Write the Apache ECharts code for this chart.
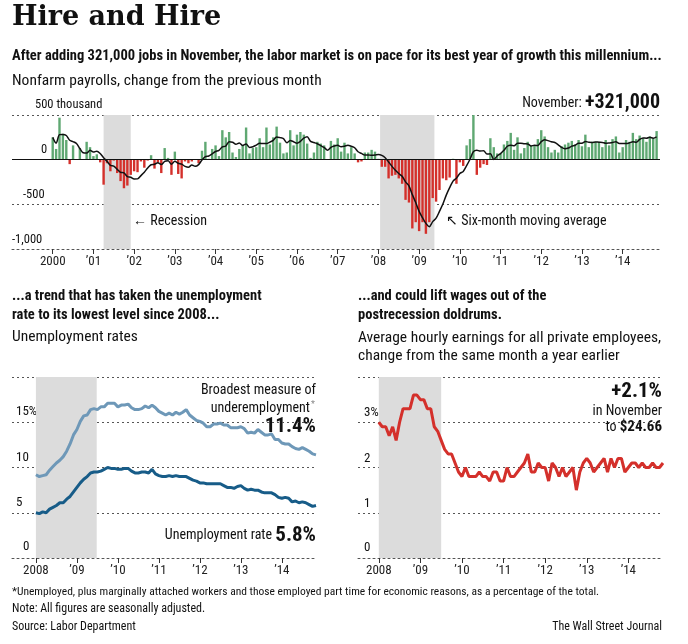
<!DOCTYPE html>
<html><head><meta charset="utf-8">
<script src="https://cdn.jsdelivr.net/npm/echarts@6/dist/echarts.min.js"></script>
<style>html,body{margin:0;padding:0;background:#fff}#chart{width:688px;height:644px}</style>
</head><body><div id="chart"></div>
<script>
const FONT = '"Liberation Sans Narrow", "Roboto Condensed", Roboto, sans-serif';

// Nonfarm payrolls, monthly change (thousands), Jan 2000 - Nov 2014
const payrolls = [
  250, 120, 470, 290, 220, -50, 160, 0, 130, 0, 200, 140,
  40, 60, -30, -280, -40, -130, -10, -150, -240, -320, -290, -170,
  -130, -140, -20, -90, -10, 50, -100, -30, -150, 130, 20, -170,
  90, -160, -210, -20, -40, -20, 0, -40, 100, 200, 10, 120,
  160, 40, 330, 250, 310, 80, 30, 120, 160, 360, 70, 130,
  140, 240, 140, 360, 170, 250, 370, 190, 70, 80, 330, 160,
  280, 310, 280, 180, 20, 80, 200, 180, 160, 0, 210, 170,
  240, 90, 190, 70, 140, 70, -30, -20, 80, 80, 110, 90,
  10, -80, -80, -210, -180, -170, -210, -270, -450, -480, -770, -700,
  -800, -700, -830, -700, -430, -470, -340, -210, -230, -200, 10, -270,
  -30, -70, 160, 230, 520, -170, -90, -50, -60, 240, 140, 70,
  70, 170, 210, 300, 110, 250, 70, 130, 200, 160, 160, 230,
  330, 260, 140, 80, 110, 80, 150, 170, 190, 210, 170, 220,
  150, 280, 140, 200, 200, 200, 140, 220, 160, 230, 260, 80,
  140, 220, 200, 300, 230, 270, 240, 200, 260, 240, 320
];
const payrollYearLabels = ['2000', '\u201901', '\u201902', '\u201903', '\u201904', '\u201905', '\u201906', '\u201907',
  '\u201908', '\u201909', '\u201910', '\u201911', '\u201912', '\u201913', '\u201914'];

// Unemployment rates, Jan 2008 - Nov 2014
const u3 = [
  5.0, 4.9, 5.1, 5.0, 5.4, 5.6, 5.8, 6.1, 6.1, 6.5, 6.8, 7.3,
  7.8, 8.3, 8.7, 9.0, 9.4, 9.5, 9.5, 9.6, 9.8, 10.0, 9.9, 9.9,
  9.8, 9.8, 9.9, 9.9, 9.6, 9.4, 9.4, 9.5, 9.5, 9.4, 9.8, 9.3,
  9.1, 9.0, 9.0, 9.1, 9.0, 9.1, 9.0, 9.0, 9.0, 8.8, 8.6, 8.5,
  8.3, 8.3, 8.2, 8.2, 8.2, 8.2, 8.2, 8.0, 7.8, 7.8, 7.7, 7.9,
  8.0, 7.7, 7.5, 7.6, 7.5, 7.5, 7.3, 7.2, 7.2, 7.2, 7.0, 6.7,
  6.6, 6.7, 6.6, 6.2, 6.3, 6.1, 6.2, 6.1, 5.9, 5.7, 5.8
];
const u6 = [
  9.2, 9.0, 9.1, 9.2, 9.7, 10.1, 10.5, 10.8, 11.2, 11.8, 12.6, 13.6,
  14.2, 15.1, 15.7, 15.8, 16.4, 16.5, 16.4, 16.7, 16.7, 17.1, 17.1, 17.1,
  16.7, 16.9, 16.9, 17.0, 16.6, 16.4, 16.4, 16.5, 16.8, 16.6, 16.9, 16.6,
  16.2, 16.0, 15.8, 16.0, 15.8, 16.1, 15.9, 16.1, 16.4, 15.8, 15.5, 15.2,
  15.1, 14.9, 14.5, 14.5, 14.8, 14.8, 14.9, 14.7, 14.7, 14.4, 14.4, 14.4,
  14.5, 14.3, 13.8, 13.9, 13.8, 14.2, 13.9, 13.6, 13.6, 13.7, 13.1, 13.1,
  12.7, 12.6, 12.6, 12.3, 12.1, 12.0, 12.2, 12.0, 11.8, 11.5, 11.4
];
// Average hourly earnings, % change from a year earlier, Jan 2008 - Nov 2014
const wages = [
  3.0, 2.9, 2.9, 2.7, 2.9, 2.6, 3.0, 3.3, 3.3, 3.3, 3.6, 3.6,
  3.5, 3.5, 3.3, 3.3, 2.9, 2.8, 2.6, 2.4, 2.3, 2.3, 2.1, 1.9,
  1.8, 2.0, 1.8, 1.8, 1.8, 1.9, 1.8, 1.8, 1.7, 1.9, 1.9, 1.7,
  1.7, 2.0, 1.8, 1.8, 1.9, 2.0, 2.1, 2.3, 1.9, 1.9, 2.1, 2.0,
  2.0, 1.7, 2.1, 2.0, 1.8, 2.0, 1.8, 1.9, 2.0, 1.5, 1.9, 2.1,
  2.2, 2.1, 1.9, 2.0, 2.1, 2.2, 1.9, 2.2, 2.0, 2.2, 2.2, 1.9,
  2.0, 2.1, 2.1, 2.0, 2.1, 2.0, 2.0, 2.1, 2.0, 2.0, 2.1
];
const smallYearLabels = ['2008', '\u201909', '\u201910', '\u201911', '\u201912', '\u201913', '\u201914'];

const indexed = arr => arr.map((v, i) => [i, v]);
// six-month moving average of the payroll series
const movingAvg = payrolls.map((v, i) => {
  const s = payrolls.slice(Math.max(0, i - 5), i + 1);
  return [i, s.reduce((a, b) => a + b, 0) / s.length];
});

const dotted = { lineStyle: { type: [2, 3], color: '#555', width: 1 } };
const shade = { color: '#dcdcdc' };

const xYearAxis = (grid, min, max, labels) => ({
  type: 'value', gridIndex: grid, min: min, max: max,
  splitLine: { show: false },
  axisLine: { show: true, onZero: false, lineStyle: { type: [2, 3], color: '#555' } },
  axisTick: { show: true, length: 5, customValues: labels.map((_, i) => i * 12), lineStyle: { color: '#333' } },
  axisLabel: {
    customValues: labels.map((_, i) => i * 12),
    formatter: v => labels[Math.round(v / 12)],
    color: '#222', fontFamily: FONT, fontSize: 13, margin: 6
  }
});
const yAxisDef = (grid, min, max, interval) => ({
  type: 'value', gridIndex: grid, min: min, max: max, interval: interval,
  axisLine: { show: false }, axisTick: { show: false }, axisLabel: { show: false },
  splitLine: dotted
});

const txt = (x, y, text, size, weight, extra) => ({
  type: 'text', x: x, y: y,
  style: Object.assign({ text: text, fontSize: size, fontWeight: weight || 'normal', fill: '#111', fontFamily: FONT }, extra || {})
});
// right-aligned text anchored at its right edge x
const rtxt = (x, y, text, size, weight, extra) => txt(x, y, text, size, weight, Object.assign({ align: 'right' }, extra || {}));
const rich = (a, b) => ({
  a: { fontSize: a, fontFamily: FONT, fill: '#111' },
  b: { fontSize: b, fontWeight: 'bold', fontFamily: FONT, fill: '#111' }
});

const chart = echarts.init(document.getElementById('chart'));
chart.setOption({
  animation: false,
  backgroundColor: '#fff',
  grid: [
    { left: 12, right: 28, top: 115, height: 134 },
    { left: 12, right: 372, top: 377, height: 181 },
    { left: 358, right: 25, top: 377, height: 181 }
  ],
  xAxis: [
    xYearAxis(0, -12, 179, payrollYearLabels),
    xYearAxis(1, -7, 82, smallYearLabels),
    xYearAxis(2, -6, 82, smallYearLabels)
  ],
  yAxis: [
    yAxisDef(0, -1000, 500, 500),
    yAxisDef(1, 0, 20, 5),
    yAxisDef(2, 0, 4, 1)
  ],
  series: [
    {
      type: 'bar', xAxisIndex: 0, yAxisIndex: 0, barWidth: 2.4,
      data: indexed(payrolls).map(d => ({ value: d, itemStyle: { color: d[1] >= 0 ? '#5fa872' : '#d4302b' } })),
      markArea: { silent: true, itemStyle: shade, data: [[{ xAxis: 15 }, { xAxis: 23 }], [{ xAxis: 96.5 }, { xAxis: 112.5 }]] },
      markLine: { silent: true, symbol: 'none', label: { show: false }, lineStyle: { color: '#111', width: 1, type: 'solid' }, data: [{ yAxis: 0 }] }
    },
    {
      type: 'line', xAxisIndex: 0, yAxisIndex: 0, data: movingAvg, showSymbol: false, smooth: 0.3,
      lineStyle: { color: '#111', width: 1.5 }, z: 5
    },
    {
      type: 'line', xAxisIndex: 1, yAxisIndex: 1, data: indexed(u6), showSymbol: false,
      lineStyle: { color: '#6e98b8', width: 3 },
      markArea: { silent: true, itemStyle: shade, data: [[{ xAxis: 0 }, { xAxis: 17.8 }]] }
    },
    {
      type: 'line', xAxisIndex: 1, yAxisIndex: 1, data: indexed(u3), showSymbol: false,
      lineStyle: { color: '#175c88', width: 3 }
    },
    {
      type: 'line', xAxisIndex: 2, yAxisIndex: 2, data: indexed(wages), showSymbol: false,
      lineStyle: { color: '#d4302b', width: 3 },
      markArea: { silent: true, itemStyle: shade, data: [[{ xAxis: 0 }, { xAxis: 18 }]] }
    }
  ],
  graphic: [
    txt(12, 4, 'Hire and Hire', 27, 'bold', { fontFamily: '"DejaVu Serif", serif' }),
    txt(12, 49, 'After adding 321,000 jobs in November, the labor market is on pace for its best year of growth this millennium...', 14.5, 'bold'),
    txt(12, 73, 'Nonfarm payrolls, change from the previous month', 15.5),
    txt(35, 98, '500 thousand', 12.5),
    txt(41, 143, '0', 12.5),
    txt(23, 188, '-500', 12.5),
    txt(12, 233, '-1,000', 12.5),
    rtxt(660, 93, '{a|November: }{b|+321,000}', 14, 'normal', { rich: rich(14, 20) }),
    txt(133, 214, '\u2190 Recession', 14),
    txt(446, 214, '\u2196 Six-month moving average', 14),
    txt(12, 287, '...a trend that has taken the unemployment\nrate to its lowest level since 2008...', 14.5, 'bold', { lineHeight: 19 }),
    txt(12, 329, 'Unemployment rates', 15.5),
    txt(16, 405, '15%', 13), txt(16, 451, '10', 13), txt(16, 496, '5', 13), txt(23, 540, '0', 13),
    rtxt(316, 383, 'Broadest measure of', 14),
    rtxt(310, 401, 'underemployment', 14),
    txt(311, 400, '*', 9, 'normal', { fill: '#888' }),
    rtxt(316, 416, '11.4%', 21, 'bold'),
    rtxt(316, 525, '{a|Unemployment rate }{b|5.8%}', 14, 'normal', { rich: rich(14, 21) }),
    txt(358, 287, '...and could lift wages out of the\npostrecession doldrums.', 14.5, 'bold', { lineHeight: 19 }),
    txt(358, 329, 'Average hourly earnings for all private employees,\nchange from the same month a year earlier', 15.5, 'normal', { lineHeight: 18 }),
    txt(364, 406, '3%', 13), txt(364, 452, '2', 13), txt(364, 497, '1', 13), txt(364, 541, '0', 13),
    rtxt(662, 381, '+2.1%', 21, 'bold'),
    rtxt(662, 404, 'in November', 14),
    rtxt(662, 420, '{a|to }{b|$24.66}', 14, 'normal', { rich: rich(14, 15) }),
    txt(12, 586, '*Unemployed, plus marginally attached workers and those employed part time for economic reasons, as a percentage of the total.', 11.5),
    txt(12, 603, 'Note: All figures are seasonally adjusted.', 12),
    txt(12, 621, 'Source: Labor Department', 12),
    rtxt(662, 621, 'The Wall Street Journal', 12)
  ]
});
</script></body></html>
